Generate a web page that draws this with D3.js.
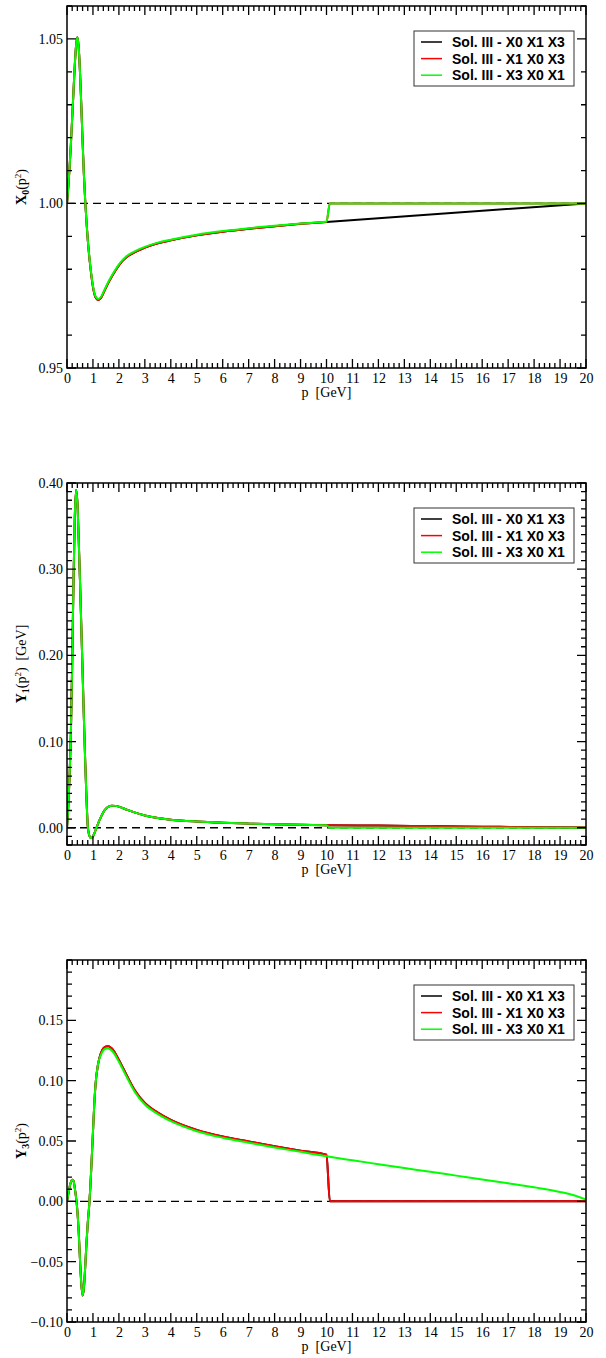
<!DOCTYPE html>
<html>
<head>
<meta charset="utf-8">
<script src="https://cdn.jsdelivr.net/npm/d3@7/dist/d3.min.js"></script>
<style>
  body { margin: 0; background: #fff; }
</style>
</head>
<body>
<div id="chart"></div>
<script>
const WIDTH = 606;
const HEIGHT = 1358;

const seriesNames = ["Sol. III - X0 X1 X3", "Sol. III - X1 X0 X3", "Sol. III - X3 X0 X1"];
const seriesColors = ["#000000", "#ff0000", "#00ff00"];

const xTicks = [0, 1, 2, 3, 4, 5, 6, 7, 8, 9, 10, 11, 12, 13, 14, 15, 16, 17, 18, 19, 20];

// --- X0(p^2) ---
const x0Ticks = [0.95, 1.00, 1.05];
const x0P = [0, 0.05, 0.1, 0.15, 0.2, 0.25, 0.3, 0.35, 0.4, 0.45, 0.5, 0.55, 0.6, 0.65, 0.7, 0.75, 0.8, 0.9, 1.0, 1.1,
             1.2, 1.3, 1.4, 1.55, 1.7, 1.85, 2.0, 2.3, 2.7, 3.0, 3.5, 4.0, 5.0, 6.0, 7.0, 8.0, 9.0, 10.0];
const x0Red = [1.000, 1.005, 1.011, 1.018, 1.026, 1.034, 1.042, 1.048, 1.0505, 1.0475, 1.040, 1.030, 1.019, 1.009, 1.001, 0.9945, 0.989, 0.9807, 0.9747, 0.9715,
               0.9707, 0.9712, 0.9727, 0.9752, 0.9774, 0.9794, 0.9812, 0.9837, 0.9855, 0.9866, 0.9879, 0.9888, 0.9903, 0.9914, 0.9923, 0.9931, 0.9938, 0.9944];
const x0Green = [1.000, 1.005, 1.011, 1.018, 1.026, 1.034, 1.042, 1.048, 1.0505, 1.0475, 1.040, 1.030, 1.019, 1.009, 1.001, 0.9945, 0.989, 0.981, 0.975, 0.9718,
                 0.9710, 0.9715, 0.9730, 0.9755, 0.9777, 0.9797, 0.9815, 0.9840, 0.9858, 0.9868, 0.9881, 0.9890, 0.9905, 0.9916, 0.9925, 0.9932, 0.9939, 0.9945];
const x0BlackTailP = [10, 20];
const x0BlackTail = [0.9944, 1.0];
const x0StepP = [10, 10.13, 20];
const x0RedTail = [0.9944, 1.0, 1.0];
const x0GreenTail = [0.9945, 1.0, 1.0];

// --- Y1(p^2) ---
const y1Ticks = [0.00, 0.10, 0.20, 0.30, 0.40];
const y1P = [0, 0.05, 0.1, 0.15, 0.2, 0.25, 0.3, 0.35, 0.4, 0.45, 0.5, 0.55, 0.6, 0.65, 0.7, 0.75, 0.8, 0.85, 0.9, 0.95,
             1.0, 1.1, 1.2, 1.3, 1.4, 1.5, 1.6, 1.73, 1.85, 2.0, 2.3, 2.6, 3.0, 3.5, 4.0, 5.0, 6.0, 7.0, 8.0, 9.0, 10.0];
const y1Main = [0, 0.025, 0.060, 0.110, 0.190, 0.285, 0.360, 0.392, 0.378, 0.335, 0.287, 0.235, 0.182, 0.128, 0.078, 0.035, 0.002, -0.008, -0.0115, -0.012,
                -0.010, -0.003, 0.005, 0.012, 0.018, 0.022, 0.0245, 0.0256, 0.0254, 0.0245, 0.0210, 0.0178, 0.0142, 0.0113, 0.0094, 0.0072, 0.0058, 0.0048, 0.0040, 0.0034, 0.0030];
const y1RedTailP = [10, 12, 14, 16, 18, 20];
const y1RedTail = [0.0030, 0.0025, 0.0019, 0.0013, 0.0007, 0.0003];
const y1StepP = [10, 10.13, 20];
const y1GreenTail = [0.0030, 0.0, 0.0];

// --- Y3(p^2) ---
const y3Ticks = [-0.10, -0.05, 0.00, 0.05, 0.10, 0.15];
const y3P = [0, 0.05, 0.1, 0.15, 0.2, 0.25, 0.3, 0.35, 0.4, 0.45, 0.5, 0.55, 0.6, 0.65, 0.7, 0.75, 0.8, 0.85, 0.9, 0.95,
             1.0, 1.05, 1.1, 1.2, 1.3, 1.4, 1.5, 1.6, 1.7, 1.8, 2.0, 2.3, 2.6, 3.0, 3.5, 4.0, 5.0, 6.0, 7.0, 8.0, 9.0, 10.0];
const y3Red = [0, 0.006, 0.012, 0.016, 0.0178, 0.017, 0.011, 0.003, -0.008, -0.025, -0.048, -0.068, -0.078, -0.072, -0.055, -0.035, -0.018, -0.005, 0.012, 0.034,
               0.057, 0.080, 0.097, 0.114, 0.1225, 0.1267, 0.1284, 0.1285, 0.1272, 0.1248, 0.1172, 0.1045, 0.0925, 0.0815, 0.0735, 0.0675, 0.0592, 0.0537, 0.0496, 0.0456, 0.0420, 0.0386];
const y3Green = [0, 0.006, 0.012, 0.016, 0.0178, 0.017, 0.011, 0.003, -0.008, -0.025, -0.048, -0.068, -0.078, -0.072, -0.055, -0.035, -0.018, -0.005, 0.012, 0.034,
                 0.057, 0.080, 0.097, 0.114, 0.1210, 0.1251, 0.1267, 0.1267, 0.1254, 0.1231, 0.1156, 0.1030, 0.0911, 0.0802, 0.0723, 0.0664, 0.0581, 0.0527, 0.0486, 0.0446, 0.0410, 0.0373];
const y3StepP = [10, 10.13, 20];
const y3RedTail = [0.0386, 0.0, 0.0];
const y3GreenTailP = [10, 11, 12, 13, 14, 15, 16, 17, 18, 19, 19.5, 20];
const y3GreenTail = [0.0373, 0.0340, 0.0308, 0.0276, 0.0245, 0.0213, 0.0181, 0.0149, 0.0116, 0.0078, 0.0052, 0.0014];

// join a main part and a tail part into one list of points
function joinSeries(p, v, tailP, tailV) {
    const pts = p.map((d, i) => [d, v[i]]);
    tailP.forEach((d, i) => {
        if (i === 0 && d === p[p.length - 1]) return;
        pts.push([d, tailV[i]]);
    });
    return pts;
}

const panels = [
    {
        top: 6, domain: [0.95, 1.06], ticks: x0Ticks, minorStep: 0.01, zero: 1.0,
        label: { sym: "X", sub: "0", unit: "" },
        series: [
            joinSeries(x0P, x0Red, x0BlackTailP, x0BlackTail),
            joinSeries(x0P, x0Red, x0StepP, x0RedTail),
            joinSeries(x0P, x0Green, x0StepP, x0GreenTail)
        ]
    },
    {
        top: 483, domain: [-0.02, 0.40], ticks: y1Ticks, minorStep: 0.01, zero: 0.0,
        label: { sym: "Y", sub: "1", unit: "  [GeV]" },
        series: [
            joinSeries(y1P, y1Main, y1RedTailP, y1RedTail),
            joinSeries(y1P, y1Main, y1RedTailP, y1RedTail),
            joinSeries(y1P, y1Main, y1StepP, y1GreenTail)
        ]
    },
    {
        top: 960, domain: [-0.10, 0.20], ticks: y3Ticks, minorStep: 0.01, zero: 0.0,
        label: { sym: "Y", sub: "3", unit: "" },
        series: [
            joinSeries(y3P, y3Red, y3StepP, y3RedTail),
            joinSeries(y3P, y3Red, y3StepP, y3RedTail),
            joinSeries(y3P, y3Green, y3GreenTailP, y3GreenTail)
        ]
    }
];

const LEFT = 67;
const RIGHT = 586;
const PLOT_H = 362;
const MAJOR = 9;
const MINOR = 5;
const SERIF = "'Liberation Serif', 'Times New Roman', Times, serif";
const SANS = "'Liberation Sans', Arial, Helvetica, sans-serif";

const svg = d3.select("#chart").append("svg")
    .attr("width", WIDTH)
    .attr("height", HEIGHT)
    .attr("viewBox", `0 0 ${WIDTH} ${HEIGHT}`);

const x = d3.scaleLinear().domain([0, 20]).range([LEFT, RIGHT]);
const xMinor = d3.range(0, 20.001, 0.2);

panels.forEach(panel => {
    const top = panel.top;
    const bottom = top + PLOT_H;
    const y = d3.scaleLinear().domain(panel.domain).range([bottom, top]);
    const g = svg.append("g");

    const clipId = "clip" + top;
    svg.append("clipPath").attr("id", clipId)
        .append("rect")
        .attr("x", LEFT).attr("y", top)
        .attr("width", RIGHT - LEFT).attr("height", PLOT_H);

    // zero / unity reference line
    g.append("line")
        .attr("x1", LEFT).attr("x2", RIGHT)
        .attr("y1", y(panel.zero)).attr("y2", y(panel.zero))
        .attr("stroke", "#000")
        .attr("stroke-width", 1.3)
        .attr("stroke-dasharray", "8,5");

    const line = d3.line()
        .x(d => x(d[0]))
        .y(d => y(d[1]))
        .curve(d3.curveMonotoneX);

    g.append("g").attr("clip-path", `url(#${clipId})`)
        .selectAll("path")
        .data(panel.series)
        .enter()
        .append("path")
        .attr("d", line)
        .attr("fill", "none")
        .attr("stroke", (d, i) => seriesColors[i])
        .attr("stroke-width", 2);

    // frame
    g.append("rect")
        .attr("x", LEFT).attr("y", top)
        .attr("width", RIGHT - LEFT).attr("height", PLOT_H)
        .attr("fill", "none")
        .attr("stroke", "#000")
        .attr("stroke-width", 1.5);

    // ticks on all four sides, pointing in, as one path
    const yMinor = d3.range(panel.domain[0], panel.domain[1] + 1e-9, panel.minorStep);
    const isMajorX = v => xTicks.some(t => Math.abs(t - v) < 1e-6);
    const isMajorY = v => panel.ticks.some(t => Math.abs(t - v) < 1e-6);
    let d = "";
    xMinor.forEach(v => {
        const len = isMajorX(v) ? MAJOR : MINOR;
        const px = x(v).toFixed(2);
        d += `M${px},${bottom}L${px},${bottom - len}M${px},${top}L${px},${top + len}`;
    });
    yMinor.forEach(v => {
        const len = isMajorY(v) ? MAJOR : MINOR;
        const py = y(v).toFixed(2);
        d += `M${LEFT},${py}L${LEFT + len},${py}M${RIGHT},${py}L${RIGHT - len},${py}`;
    });
    g.append("path")
        .attr("d", d)
        .attr("fill", "none")
        .attr("stroke", "#000")
        .attr("stroke-width", 1.3);

    // tick labels via d3 axes (tick lines hidden, drawn above)
    const xa = g.append("g")
        .attr("transform", `translate(0,${bottom})`)
        .call(d3.axisBottom(x).tickValues(xTicks).tickSize(0).tickPadding(5).tickFormat(d3.format("d")));
    const ya = g.append("g")
        .attr("transform", `translate(${LEFT},0)`)
        .call(d3.axisLeft(y).tickValues(panel.ticks).tickSize(0).tickPadding(4).tickFormat(d3.format(".2f")));
    [xa, ya].forEach(a => {
        a.select(".domain").remove();
        a.attr("font-family", SERIF).attr("font-size", 14);
        a.selectAll(".tick line").remove();
        a.selectAll(".tick text").attr("fill", "#000");
    });

    // x title
    g.append("text")
        .attr("x", (LEFT + RIGHT) / 2)
        .attr("y", bottom + 29)
        .attr("text-anchor", "middle")
        .attr("font-family", SERIF)
        .attr("font-size", 14)
        .attr("fill", "#000")
        .text("p\u00a0\u00a0[GeV]");

    // y title
    const yt = g.append("text")
        .attr("transform", `translate(26,${(top + bottom) / 2}) rotate(-90)`)
        .attr("text-anchor", "middle")
        .attr("font-family", SERIF)
        .attr("font-size", 14)
        .attr("fill", "#000");
    yt.append("tspan").attr("font-weight", "bold").text(panel.label.sym);
    yt.append("tspan").attr("font-weight", "bold").attr("font-size", 10).attr("dy", 3).text(panel.label.sub);
    yt.append("tspan").attr("dy", -3).text("(p");
    yt.append("tspan").attr("font-size", 9).attr("dy", -5).text("2");
    yt.append("tspan").attr("dy", 5).text(")" + panel.label.unit.replace(/ /g, "\u00a0"));

    // legend
    const lx = RIGHT - 172;
    const ly = top + 25;
    const leg = g.append("g");
    leg.append("rect")
        .attr("x", lx).attr("y", ly)
        .attr("width", 160).attr("height", 55)
        .attr("fill", "#fff")
        .attr("stroke", "#333")
        .attr("stroke-width", 1);
    const rows = leg.selectAll(null).data(seriesNames).enter().append("g")
        .attr("transform", (dd, i) => `translate(0,${ly + 11 + i * 16.6})`);
    rows.append("line")
        .attr("x1", lx + 7).attr("x2", lx + 28)
        .attr("stroke", (dd, i) => seriesColors[i])
        .attr("stroke-width", 1.5);
    rows.append("text")
        .attr("x", lx + 38)
        .attr("y", 5)
        .attr("font-family", SANS)
        .attr("font-weight", "bold")
        .attr("font-size", 14)
        .attr("fill", "#000")
        .text(dd => dd);
});
</script>
</body>
</html>
